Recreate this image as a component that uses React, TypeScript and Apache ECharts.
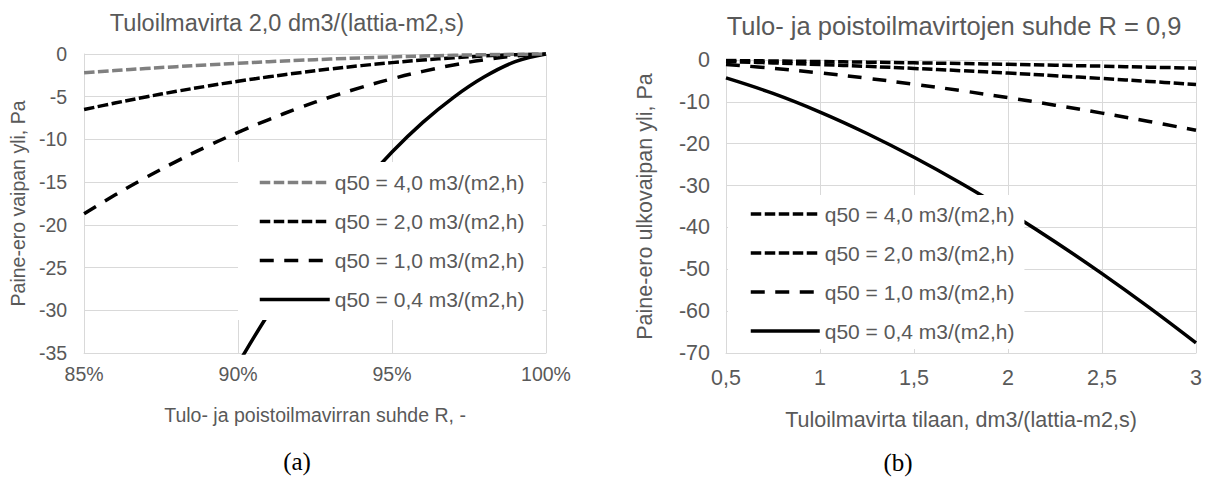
import React, { useEffect, useRef } from "react";
import * as echarts from "echarts";

// ---------- shared ----------
const seriesNames = [
  "q50 = 4,0 m3/(m2,h)",
  "q50 = 2,0 m3/(m2,h)",
  "q50 = 1,0 m3/(m2,h)",
  "q50 = 0,4 m3/(m2,h)",
];

// ---------- chart (a) ----------
const titleA = "Tuloilmavirta 2,0 dm3/(lattia-m2,s)";
const xNameA = "Tulo- ja poistoilmavirran suhde R, -";
const yNameA = "Paine-ero vaipan yli, Pa";
const captionA = "(a)";
const ratioPct = [85, 86, 87, 88, 89, 90, 91, 92, 93, 94, 95, 96, 97, 98, 99, 100];
const a_q40 = [-2.2, -1.94, -1.7, -1.48, -1.27, -1.08, -0.9, -0.74, -0.59, -0.46, -0.34, -0.24, -0.15, -0.08, -0.03, 0];
const a_q20 = [-6.5, -5.74, -5.03, -4.37, -3.76, -3.19, -2.67, -2.19, -1.75, -1.36, -1.01, -0.7, -0.45, -0.23, -0.08, 0];
const a_q10 = [-18.7, -16.51, -14.47, -12.57, -10.8, -9.17, -7.67, -6.29, -5.03, -3.91, -2.9, -2.03, -1.28, -0.68, -0.23, 0];
const a_q04 = [-74.0, -65.35, -57.28, -49.75, -42.76, -36.29, -30.34, -24.88, -19.92, -15.46, -11.48, -8.01, -5.07, -2.67, -0.9, 0];

// ---------- chart (b) ----------
const titleB = "Tulo- ja poistoilmavirtojen suhde R = 0,9";
const xNameB = "Tuloilmavirta tilaan, dm3/(lattia-m2,s)";
const yNameB = "Paine-ero ulkovaipan yli, Pa";
const captionB = "(b)";
const supplyFlow = [0.5, 0.75, 1, 1.25, 1.5, 1.75, 2, 2.25, 2.5, 2.75, 3];
const b_q40 = [-0.12, -0.23, -0.36, -0.51, -0.67, -0.85, -1.04, -1.25, -1.47, -1.71, -1.95];
const b_q20 = [-0.37, -0.69, -1.08, -1.52, -2.01, -2.55, -3.13, -3.76, -4.42, -5.12, -5.85];
const b_q10 = [-1.06, -1.99, -3.09, -4.36, -5.78, -7.32, -9.0, -10.79, -12.69, -14.69, -16.8];
const b_q04 = [-4.28, -7.99, -12.45, -17.56, -23.25, -29.47, -36.21, -43.41, -51.05, -59.12, -67.6];

const FONT = "'Liberation Sans', Arial, sans-serif";
const SERIF = "'Liberation Serif', 'Times New Roman', serif";
const TXT = "#595959";
const GRID = "#d9d9d9";
const LW = 3.5;
const shortDash = [10.5, 3.5];
const longDash = [14, 10.5];

function mkSeries(xs: number[], ys: number[][], colors: string[]) {
  const dashes: any[] = [shortDash, shortDash, longDash, "solid"];
  return ys.map((vals, i) => ({
    name: seriesNames[i],
    type: "line",
    data: xs.map((x, k) => [x, vals[k]]),
    smooth: 0.4,
    symbol: "none",
    showSymbol: false,
    clip: true,
    lineStyle: { color: colors[i], width: LW, type: dashes[i], cap: "butt" },
    itemStyle: { color: colors[i] },
    z: 2 + (3 - i),
  }));
}

function axisCommon(fs: number) {
  return {
    axisTick: { show: false },
    axisLine: { show: true, onZero: false, lineStyle: { color: GRID, width: 1 } },
    splitLine: { show: true, lineStyle: { color: GRID, width: 1 } },
    axisLabel: { color: TXT, fontSize: fs, fontFamily: FONT },
    nameTextStyle: { color: TXT, fontSize: fs, fontFamily: FONT },
    nameLocation: "middle" as const,
  };
}

function legendCfg(left: number, top: number, padding: number[], itemWidth: number) {
  return {
    orient: "vertical",
    left,
    top,
    padding,
    itemWidth,
    itemHeight: 14,
    itemGap: 18,
    backgroundColor: "#ffffff",
    selectedMode: false,
    itemStyle: { opacity: 0 },
    lineStyle: { width: LW },
    textStyle: { color: TXT, fontSize: 21, fontFamily: FONT },
    data: seriesNames,
  };
}

function optionA(): any {
  const fs = 19.5;
  return {
    animation: false,
    grid: { left: 83, right: 56, top: 54, bottom: 127, containLabel: false },
    xAxis: {
      type: "value",
      min: 85,
      max: 100,
      interval: 5,
      ...axisCommon(fs),
      axisLabel: { ...axisCommon(fs).axisLabel, margin: 11, formatter: (v: number) => `${v}%` },
      name: xNameA,
      nameGap: 52,
    },
    yAxis: {
      type: "value",
      min: -35,
      max: 0,
      interval: 5,
      ...axisCommon(fs),
      axisLabel: { ...axisCommon(fs).axisLabel, margin: 17 },
      name: yNameA,
      nameGap: 54,
    },
    legend: legendCfg(238, 162, [10, 18, 10, 20], 70),
    graphic: [
      {
        type: "text",
        x: 287,
        y: 23,
        style: { text: titleA, fill: TXT, font: `23.5px ${FONT}`, align: "center", verticalAlign: "middle" },
      },
      {
        type: "text",
        x: 297,
        y: 461,
        style: { text: captionA, fill: "#000", font: `25px ${SERIF}`, align: "center", verticalAlign: "middle" },
      },
    ],
    series: mkSeries(ratioPct, [a_q40, a_q20, a_q10, a_q04], ["#808080", "#000000", "#000000", "#000000"]),
  };
}

function optionB(): any {
  const fs = 21.5;
  return {
    animation: false,
    grid: { left: 124, right: 9, top: 60, bottom: 127, containLabel: false },
    xAxis: {
      type: "value",
      min: 0.5,
      max: 3,
      interval: 0.5,
      ...axisCommon(fs),
      axisLabel: { ...axisCommon(fs).axisLabel, margin: 14, formatter: (v: number) => String(v).replace(".", ",") },
      name: xNameB,
      nameGap: 56,
    },
    yAxis: {
      type: "value",
      min: -70,
      max: 0,
      interval: 10,
      ...axisCommon(fs),
      axisLabel: { ...axisCommon(fs).axisLabel, margin: 16 },
      name: yNameB,
      nameGap: 70,
    },
    legend: legendCfg(126, 195, [8.5, 10, 7.5, 21], 69),
    graphic: [
      {
        type: "text",
        x: 352,
        y: 26,
        style: { text: titleB, fill: TXT, font: `25.5px ${FONT}`, align: "center", verticalAlign: "middle" },
      },
      {
        type: "text",
        x: 296,
        y: 462,
        style: { text: captionB, fill: "#000", font: `25px ${SERIF}`, align: "center", verticalAlign: "middle" },
      },
    ],
    series: mkSeries(supplyFlow, [b_q40, b_q20, b_q10, b_q04], ["#000000", "#000000", "#000000", "#000000"]),
  };
}

function ChartBox({ option, left, width }: { option: any; left: number; width: number }) {
  const ref = useRef<HTMLDivElement>(null);
  useEffect(() => {
    if (!ref.current) return;
    const chart = echarts.init(ref.current, undefined, { renderer: "svg" });
    chart.setOption(option);
    return () => chart.dispose();
  }, [option]);
  return <div ref={ref} style={{ position: "absolute", left, top: 0, width, height: 480 }} />;
}

const optA = optionA();
const optB = optionB();

export default function App() {
  return (
    <div style={{ position: "fixed", left: 0, top: 0, width: 1205, height: 480, background: "#fff" }}>
      <ChartBox option={optA} left={0} width={602} />
      <ChartBox option={optB} left={602} width={603} />
    </div>
  );
}
